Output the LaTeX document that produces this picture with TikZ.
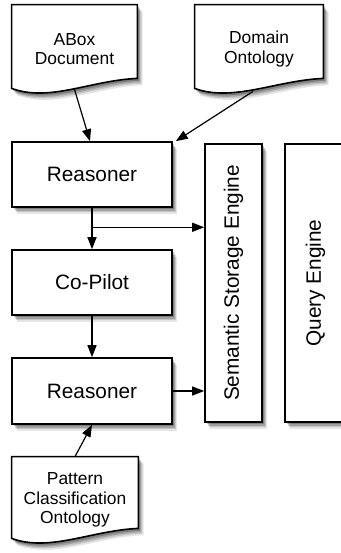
\documentclass[tikz,border=0pt]{standalone}
\usepackage{fontspec}
\setmainfont{Liberation Sans}
\usetikzlibrary{arrows.meta,shadows,backgrounds,calc}

% wavy-bottom document outline behind a named node
\newcommand{\docshape}[1]{%
	\begin{scope}[on background layer]
		\draw[docline] (#1.north west) -- (#1.north east)
			-- ([shift={(0,-15)}]#1.south east)
			.. controls ([shift={(-47,-13)}]#1.south east) and ([shift={(38,9)}]#1.south west)
			.. ([shift={(0,-5)}]#1.south west) -- cycle;
	\end{scope}}

\begin{document}
\begin{tikzpicture}[x=0.5pt, y=-0.5pt,
	softshadow/.style={
		general shadow={fill=black, opacity=0.10, shadow xshift=2.6pt, shadow yshift=-3.4pt},
		general shadow={fill=black, opacity=0.14, shadow xshift=2pt, shadow yshift=-2.6pt},
		general shadow={fill=black, opacity=0.18, shadow xshift=1.4pt, shadow yshift=-1.9pt},
		general shadow={fill=black, opacity=0.22, shadow xshift=0.8pt, shadow yshift=-1.2pt}},
	box/.style={draw, line width=0.8pt, fill=white, softshadow, inner sep=0pt,
		font=\fontsize{10.4}{12}\selectfont},
	docnode/.style={inner sep=0pt, align=center, font=\fontsize{8.7}{9.7}\selectfont},
	docline/.style={line width=0.8pt, fill=white, softshadow},
	flow/.style={-{Triangle[length=6pt, width=4.5pt]}, line width=0.6pt}]

	\useasboundingbox (0,0) rectangle (341,553);

	% inputs
	\node[docnode, minimum width=62.5pt, minimum height=44pt] (abox) at (74.5, 49) {ABox\\Document};
	\node[docnode, minimum width=64pt, minimum height=44pt] (domain) at (259, 49) {Domain\\Ontology};
	\node[docnode, minimum width=63pt, minimum height=43pt] (pattern) at (75, 500) {Pattern\\Classification\\Ontology};
	\docshape{abox}
	\docshape{domain}
	\docshape{pattern}

	% processing chain
	\node[box, minimum width=80pt, minimum height=32.5pt] (reasonerA) at (92, 174.5) {Reasoner};
	\node[box, minimum width=80pt, minimum height=32.5pt] (copilot) at (92, 282.5) {Co-Pilot};
	\node[box, minimum width=80pt, minimum height=33pt] (reasonerB) at (92, 391) {Reasoner};

	% engines
	\node[box, minimum width=28.5pt, minimum height=139pt] (storage) at (233.5, 283) {\rotatebox{90}{Semantic Storage Engine}};
	\node[box, minimum width=30.5pt, minimum height=139pt] (query) at (315.5, 283) {\rotatebox{90}{Query Engine}};

	\draw[flow] ([shift={(0,-4)}]abox.south) -- ([shift={(-2,0)}]reasonerA.north);
	\draw[flow] ([shift={(-6,-2)}]domain.south) -- ([shift={(3,0)}]reasonerA.north east);
	\draw[flow] (reasonerA) -- (copilot);
	\coordinate (split) at ($(reasonerA.south)!0.47!(copilot.north)$);
	\draw[flow] (split) -- (split -| storage.west);
	\draw[flow] (copilot) -- (reasonerB);
	\draw[flow] (reasonerB.east) -- (reasonerB.east -| storage.west);
	\draw[flow] (pattern.north) -- (reasonerB.south);

\end{tikzpicture}
\end{document}
